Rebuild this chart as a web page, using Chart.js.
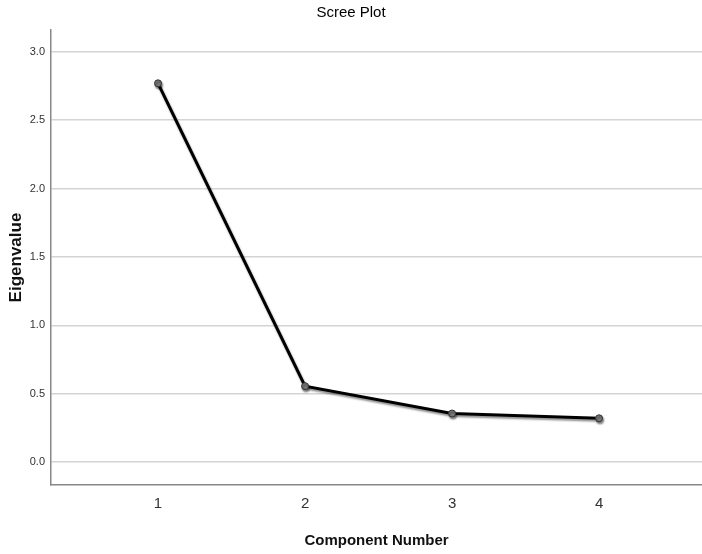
<!DOCTYPE html>
<html><head><meta charset="utf-8">
<script src="https://cdn.jsdelivr.net/npm/chart.js@4.4.0/dist/chart.umd.min.js"></script>
<style>html,body{margin:0;padding:0;background:#fff}#wrap{width:702px;height:554px}</style>
</head><body><div id="wrap"><canvas id="c" width="702" height="554"></canvas></div>
<script>
const components = [1, 2, 3, 4];
const eigenvalues = [2.77, 0.555, 0.355, 0.32];
const yTicks = [0, 0.5, 1.0, 1.5, 2.0, 2.5, 3.0];
const FONT = "'Liberation Sans Narrow','Liberation Sans',Arial,sans-serif";

const shadowPlugin = {
  id: 'shadow',
  beforeDatasetDraw(chart) { const c = chart.ctx; c.save(); c.shadowColor = 'rgba(0,0,0,0.45)'; c.shadowBlur = 2; c.shadowOffsetY = 2; c.shadowOffsetX = 1; },
  afterDatasetDraw(chart) { chart.ctx.restore(); }
};

new Chart(document.getElementById('c'), {
  type: 'line',
  data: { datasets: [{
    data: components.map((c, i) => ({ x: c, y: eigenvalues[i] })),
    borderColor: '#000', borderWidth: 3, tension: 0,
    pointRadius: 3.5, pointBackgroundColor: '#7a7a7a', pointBorderColor: '#333', pointBorderWidth: 1
  }]},
  options: {
    responsive: false, animation: false,
    layout: { autoPadding: false, padding: 0 },
    plugins: {
      legend: { display: false }, tooltip: { enabled: false },
      title: { display: true, text: 'Scree Plot', color: '#000', font: { family: FONT, size: 15, weight: 'normal' }, padding: { top: 4, bottom: 8 } }
    },
    scales: {
      x: {
        type: 'linear', min: 0.272, max: 4.70,
        afterBuildTicks(s) { s.ticks = components.map(v => ({ value: v })); },
        afterFit(s) { s.height = 69; },
        grid: { display: false, drawTicks: false },
        border: { display: true, color: '#888', width: 1.5 },
        ticks: { color: '#333', font: { family: FONT, size: 15 }, padding: 10 },
        title: { display: true, text: 'Component Number', color: '#111', font: { family: FONT, size: 15, weight: 'bold' }, padding: { top: 10, bottom: 4 } }
      },
      y: {
        min: -0.168, max: 3.16,
        afterBuildTicks(s) { s.ticks = yTicks.map(v => ({ value: v })); },
        afterFit(s) { s.width = 51; },
        grid: { color: '#d4d4d4', lineWidth: 1.5, drawTicks: false },
        border: { display: true, color: '#888', width: 1.5 },
        ticks: { color: '#333', font: { family: FONT, size: 11 }, padding: 6, callback: v => v.toFixed(1) },
        title: { display: true, text: 'Eigenvalue', color: '#111', font: { family: FONT, size: 17, weight: 'bold' }, padding: { top: 6, bottom: 2 } }
      }
    }
  },
  plugins: [shadowPlugin]
});
</script></body></html>
